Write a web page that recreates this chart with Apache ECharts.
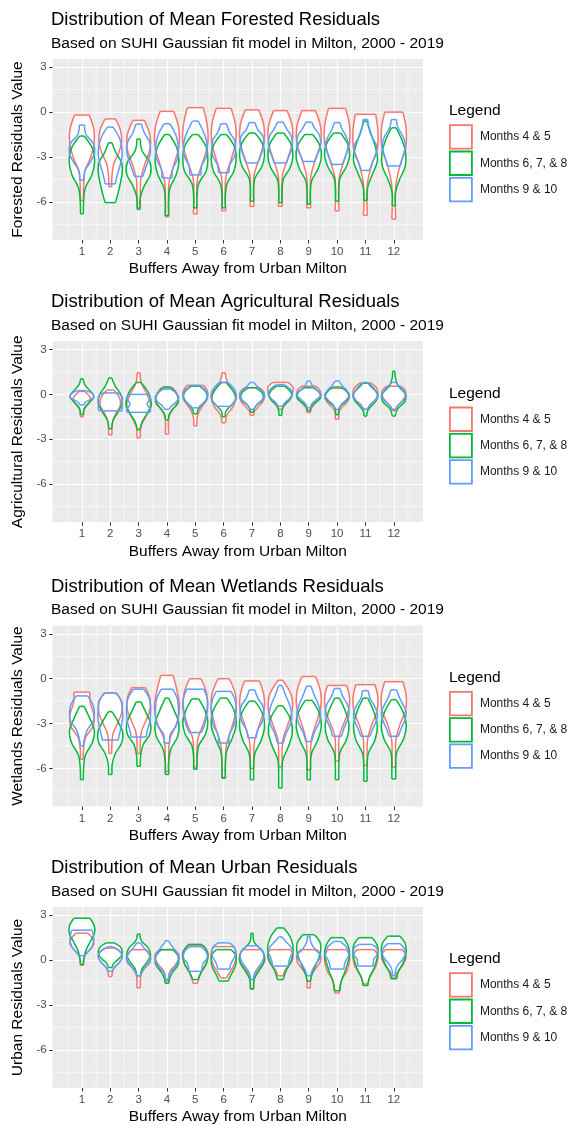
<!DOCTYPE html>
<html><head><meta charset="utf-8">
<script src="https://cdn.jsdelivr.net/npm/echarts@6/dist/echarts.min.js"></script>
<style>html,body{margin:0;padding:0;background:#fff}#c{width:573px;height:1126px}</style>
</head><body><div id="c"></div>
<script>
// ---------- labels & ticks ----------
const buffers = [1,2,3,4,5,6,7,8,9,10,11,12];
const groupNames = ['Months 4 & 5', 'Months 6, 7, & 8', 'Months 9 & 10'];
const panelTitles = ['Distribution of Mean Forested Residuals','Distribution of Mean Agricultural Residuals','Distribution of Mean Wetlands Residuals','Distribution of Mean Urban Residuals'];
const subtitleText = 'Based on SUHI Gaussian fit model in Milton, 2000 - 2019';
const yAxisTitles = ['Forested Residuals Value','Agricultural Residuals Value','Wetlands Residuals Value','Urban Residuals Value'];
const xAxisTitle = 'Buffers Away from Urban Milton';
const legendTitle = 'Legend';
const yTickValues = [-6,-3,0,3];
const yMinorValues = [-7.5,-4.5,-1.5,1.5];
const xMinorValues = [0.5,1.5,2.5,3.5,4.5,5.5,6.5,7.5,8.5,9.5,10.5,11.5,12.5];
const yRange = [-8.55, 3.55];
const xRange = [-0.03, 13.03];

// ---------- violins ----------
// each row (one per buffer): [top, bottom, half-widths in hundredths of a buffer step at 7 evenly spaced levels, top -> bottom]
const forestedM45 = [
 [-0.2,-5.9, 26,42,43,30,10,6,5],
 [-0.45,-5.0, 18,36,40,30,12,6,5],
 [-0.55,-6.4, 20,40,40,22,8,6,6],
 [0.05,-7.0, 24,42,42,25,8,5,6],
 [0.3,-6.8, 28,42,44,28,8,5,7],
 [0.25,-6.6, 26,42,42,26,8,5,7],
 [0.15,-6.3, 24,42,42,26,8,5,7],
 [0.1,-6.3, 24,42,42,26,8,5,7],
 [0.1,-6.4, 24,42,42,24,8,5,7],
 [0.25,-6.6, 30,44,44,26,8,5,7],
 [-0.15,-6.9, 36,44,42,22,8,5,7],
 [0.0,-7.15, 32,44,42,22,8,5,7]
];
const forestedM678 = [
 [-1.6,-6.8, 8,38,45,35,12,6,5],
 [-2.05,-6.05, 6,20,40,42,36,28,18],
 [-1.8,-6.5, 6,12,40,42,20,6,5],
 [-1.5,-6.9, 8,35,42,32,10,6,6],
 [-1.5,-6.4, 10,38,44,38,12,6,6],
 [-1.5,-6.4, 10,38,44,36,12,6,6],
 [-1.4,-5.95, 10,38,44,34,10,6,6],
 [-1.4,-6.05, 12,38,44,34,10,6,6],
 [-1.5,-6.15, 14,40,44,32,10,6,6],
 [-1.4,-5.95, 12,38,44,32,10,6,6],
 [-0.6,-5.9, 5,20,36,42,25,8,6],
 [-1.05,-6.25, 8,30,42,40,20,6,6]
];
const forestedM910 = [
 [-0.87,-4.55, 9,14,40,45,30,10,8],
 [-1.0,-4.8, 10,30,40,42,35,25,18],
 [-0.8,-4.3, 10,20,38,42,36,25,15],
 [-0.78,-4.4, 10,28,38,40,36,20,18],
 [-0.6,-4.2, 10,26,38,42,38,22,20],
 [-0.78,-4.05, 10,20,38,42,38,22,18],
 [-0.7,-3.4, 10,20,38,42,38,30,20],
 [-0.67,-3.4, 10,22,38,42,40,30,22],
 [-0.67,-3.3, 10,22,38,42,40,30,20],
 [-0.7,-3.5, 10,18,32,40,36,28,18],
 [-0.5,-3.9, 8,12,22,38,38,25,15],
 [-0.5,-3.6, 9,14,30,40,38,30,22]
];
const agriculturalM45 = [
 [0.2,-1.5, 10,25,32,22,10,6,5],
 [0.3,-2.7, 12,32,36,22,10,6,6],
 [1.45,-2.9, 5,10,30,42,26,8,6],
 [0.45,-2.65, 20,38,36,16,6,5,6],
 [0.6,-2.1, 30,44,42,26,12,6,6],
 [1.45,-1.9, 5,12,30,42,34,12,6],
 [0.45,-1.4, 26,42,44,38,24,10,6],
 [0.8,-1.0, 26,44,44,40,30,16,6],
 [0.55,-1.2, 24,40,42,36,22,10,6],
 [0.4,-1.65, 22,40,42,30,12,6,7],
 [0.75,-1.0, 20,38,44,42,32,16,8],
 [0.55,-1.1, 24,40,42,36,24,10,6]
];
const agriculturalM678 = [
 [1.05,-1.35, 4,10,28,42,25,8,5],
 [1.1,-2.3, 5,18,38,42,28,10,5],
 [0.8,-2.35, 8,30,42,44,30,12,5],
 [0.5,-1.7, 10,30,40,38,22,8,5],
 [0.55,-1.3, 14,34,42,38,24,10,6],
 [0.8,-1.5, 8,26,40,42,26,8,5],
 [0.45,-1.2, 12,32,40,36,20,8,5],
 [0.55,-1.4, 14,34,40,30,12,6,5],
 [0.45,-1.1, 14,34,42,38,20,8,5],
 [0.5,-1.35, 12,34,42,34,14,6,5],
 [0.75,-1.45, 10,30,42,40,24,8,5],
 [1.55,-1.45, 4,6,16,40,40,14,5]
];
const agriculturalM910 = [
 [0.25,-0.7, 16,34,42,40,26,12,8],
 [0.1,-1.1, 28,40,42,42,42,42,40],
 [0.0,-1.2, 30,42,38,30,34,42,40],
 [0.35,-1.0, 14,30,40,40,30,16,8],
 [0.6,-0.9, 14,32,42,42,36,24,10],
 [0.8,-0.8, 14,30,40,44,44,36,24],
 [0.8,-1.0, 6,20,36,44,34,16,6],
 [0.65,-0.8, 14,32,42,40,30,16,6],
 [0.9,-0.9, 5,12,28,44,30,12,5],
 [0.9,-1.0, 6,18,34,44,32,14,5],
 [0.8,-1.0, 6,20,36,45,34,16,6],
 [0.8,-1.0, 6,22,36,44,34,16,6]
];
const wetlandsM45 = [
 [-0.9,-5.4, 28,30,42,40,14,6,5],
 [-0.95,-5.0, 22,40,40,26,10,6,5],
 [-0.6,-5.0, 24,40,40,26,10,6,5],
 [0.22,-6.2, 22,36,44,34,10,6,6],
 [0.0,-5.9, 20,40,42,30,10,6,6],
 [0.0,-6.6, 20,42,42,28,10,6,6],
 [-0.15,-6.0, 26,42,42,26,10,6,6],
 [-0.1,-5.9, 8,38,42,28,10,6,7],
 [0.15,-6.1, 24,42,42,26,10,6,7],
 [-0.45,-5.5, 34,44,40,24,8,6,6],
 [-0.4,-5.8, 34,44,40,22,8,6,6],
 [-0.2,-5.9, 32,44,42,22,8,6,6]
];
const wetlandsM678 = [
 [-1.85,-6.75, 8,28,44,36,12,6,5],
 [-2.2,-6.4, 6,28,44,40,18,7,6],
 [-1.55,-5.85, 8,26,42,40,16,7,6],
 [-1.3,-6.4, 6,26,42,38,14,6,6],
 [-1.35,-6.05, 12,34,44,36,12,6,6],
 [-1.3,-6.65, 12,38,44,30,10,6,6],
 [-1.5,-6.75, 10,38,44,32,10,6,6],
 [-1.8,-7.3, 8,36,42,28,8,6,6],
 [-1.45,-6.75, 12,38,44,32,10,6,6],
 [-1.3,-6.75, 8,30,42,34,10,6,6],
 [-1.3,-6.85, 8,30,42,34,10,6,6],
 [-1.4,-6.7, 8,34,44,34,10,7,7]
];
const wetlandsM910 = [
 [-1.15,-4.5, 20,38,44,40,20,10,5],
 [-0.95,-4.1, 18,40,42,44,40,34,28],
 [-0.7,-3.9, 18,36,42,42,40,32,26],
 [-0.7,-4.3, 20,36,40,40,34,12,10],
 [-0.7,-3.6, 30,40,44,42,38,32,22],
 [-0.85,-4.3, 26,40,44,42,36,20,18],
 [-0.75,-3.95, 10,20,38,42,36,20,15],
 [-0.45,-4.3, 6,18,32,40,36,20,10],
 [-0.5,-4.2, 8,20,34,42,36,20,10],
 [-0.65,-3.85, 10,20,36,42,36,24,16],
 [-0.8,-3.85, 10,16,32,42,38,26,16],
 [-0.75,-3.85, 10,20,34,44,38,26,16]
];
const urbanM45 = [
 [1.8,-0.35, 20,38,42,30,12,6,5],
 [0.8,-1.1, 20,40,42,32,16,8,6],
 [0.7,-1.85, 26,42,40,20,8,6,6],
 [0.7,-1.4, 26,42,40,28,12,6,6],
 [0.95,-1.55, 30,44,44,38,24,14,8],
 [0.9,-1.2, 34,44,44,40,32,20,10],
 [0.7,-1.95, 34,44,40,22,10,6,6],
 [0.7,-1.05, 36,44,44,38,26,14,10],
 [0.7,-1.85, 30,42,40,24,10,6,6],
 [0.7,-2.2, 34,44,42,34,18,10,8],
 [0.7,-1.6, 30,44,42,36,24,14,8],
 [0.7,-1.2, 30,42,42,34,22,10,6]
];
const urbanM678 = [
 [2.8,-0.3, 28,44,44,30,16,8,5],
 [1.15,-0.5, 14,36,42,40,28,12,6],
 [1.75,-1.05, 4,10,34,42,30,12,6],
 [0.7,-1.55, 20,38,42,36,20,10,6],
 [1.05,-1.3, 24,40,44,40,30,18,10],
 [0.7,-1.4, 26,42,44,42,34,24,16],
 [1.8,-1.9, 4,8,38,44,26,8,6],
 [2.15,-1.3, 12,34,44,44,36,20,10],
 [1.7,-1.4, 20,40,42,36,24,12,6],
 [1.5,-2.05, 22,40,44,36,26,14,10],
 [1.5,-1.7, 24,42,44,38,28,14,8],
 [1.6,-1.25, 22,40,44,40,30,16,10]
];
const urbanM910 = [
 [2.0,0.3, 36,40,42,40,34,22,10],
 [0.9,-0.75, 8,30,42,40,30,14,6],
 [1.15,-1.05, 6,20,36,42,30,14,6],
 [1.3,-1.3, 4,20,36,40,30,10,5],
 [0.9,-0.75, 20,36,42,40,28,24,22],
 [1.15,-0.6, 20,38,42,40,32,24,22],
 [0.95,-1.3, 18,38,42,34,20,8,5],
 [1.55,-0.4, 6,20,36,44,36,30,28],
 [1.6,-1.05, 4,8,22,42,28,14,6],
 [1.25,-0.6, 10,30,40,42,32,26,24],
 [1.05,-0.4, 22,40,42,40,30,28,26],
 [1.1,-1.05, 22,38,40,30,14,6,5]
];
const panelViolins = [
  [forestedM45, forestedM678, forestedM910],
  [agriculturalM45, agriculturalM678, agriculturalM910],
  [wetlandsM45, wetlandsM678, wetlandsM910],
  [urbanM45, urbanM678, urbanM910]
];

// ---------- styling / layout ----------
const groupColors = ['#F8766D', '#00BA38', '#619CFF'];
const FONT = 'Liberation Sans, Arial, Helvetica, sans-serif';
const panelOffsets = [0, 282.3, 566.6, 848];
const plotLeft = 52.7, plotWidth = 370.3, plotTop0 = 59, plotHeight = 181;

const chart = echarts.init(document.getElementById('c'), null, {renderer: 'canvas'});

function violinRender(params, api) {
  const c = api.value(0), top = api.value(1), bot = api.value(2);
  const n = 7;
  const right = [], left = [];
  for (let i = 0; i < n; i++) {
    const w = api.value(3 + i) / 100;
    const y = top + (bot - top) * i / (n - 1);
    right.push(api.coord([c + w, y]));
    left.push(api.coord([c - w, y]));
  }
  const color = api.visual('color');
  const poly = right.concat(left.slice().reverse());
  const stroke = {stroke: color, lineWidth: 1.5, fill: null};
  return {
    type: 'group',
    children: [
      {type: 'polygon', z2: 0, shape: {points: poly}, style: {fill: 'rgba(255,255,255,0.85)', stroke: null}},
      {type: 'polyline', z2: 10, shape: {points: right, smooth: 0.35}, style: stroke},
      {type: 'polyline', z2: 10, shape: {points: left, smooth: 0.35}, style: stroke},
      {type: 'line', z2: 10, shape: {x1: left[0][0], y1: left[0][1], x2: right[0][0], y2: right[0][1]}, style: stroke},
      {type: 'line', z2: 10, shape: {x1: left[n-1][0], y1: left[n-1][1], x2: right[n-1][0], y2: right[n-1][1]}, style: stroke}
    ]
  };
}

function minorGridRender(params, api) {
  const cs = params.coordSys;
  const children = [];
  xMinorValues.forEach(v => {
    const x = api.coord([v, 0])[0];
    children.push({type: 'line', shape: {x1: x, y1: cs.y, x2: x, y2: cs.y + cs.height}, style: {stroke: '#fff', lineWidth: 0.6}});
  });
  yMinorValues.forEach(v => {
    const y = api.coord([0, v])[1];
    children.push({type: 'line', shape: {x1: cs.x, y1: y, x2: cs.x + cs.width, y2: y}, style: {stroke: '#fff', lineWidth: 0.6}});
  });
  return {type: 'group', children};
}

const grids = [], xAxes = [], yAxes = [], series = [], titles = [], legends = [];
panelOffsets.forEach((off, p) => {
  const top = plotTop0 + off;
  grids.push({left: plotLeft, width: plotWidth, top: top, height: plotHeight, show: true, backgroundColor: '#EBEBEB', borderWidth: 0});
  xAxes.push({
    type: 'value', gridIndex: p, min: xRange[0], max: xRange[1],
    axisLine: {show: false, onZero: false},
    axisTick: {show: true, length: 3.5, customValues: buffers, lineStyle: {color: '#333', width: 1}},
    axisLabel: {customValues: buffers, color: '#4d4d4d', fontSize: 11.5, margin: 6, fontFamily: FONT},
    splitLine: {show: true, lineStyle: {color: '#fff', width: 1.2}},
    name: xAxisTitle, nameLocation: 'middle', nameGap: 21,
    nameTextStyle: {fontSize: 15.5, color: '#000', fontFamily: FONT}
  });
  yAxes.push({
    type: 'value', gridIndex: p, min: yRange[0], max: yRange[1], splitNumber: 4,
    axisLine: {show: false, onZero: false},
    axisTick: {show: true, length: 3.5, customValues: yTickValues, lineStyle: {color: '#333', width: 1}},
    axisLabel: {customValues: yTickValues, color: '#4d4d4d', fontSize: 11.5, margin: 6, fontFamily: FONT},
    splitLine: {show: true, lineStyle: {color: '#fff', width: 1.2}},
    name: yAxisTitles[p], nameLocation: 'middle', nameGap: 19,
    nameTextStyle: {fontSize: 15.5, color: '#000', fontFamily: FONT}
  });
  series.push({type: 'custom', xAxisIndex: p, yAxisIndex: p, silent: true, z: 1, data: [[0, 0]], renderItem: minorGridRender});
  panelViolins[p].forEach((rows, g) => {
    series.push({
      type: 'custom', name: groupNames[g], xAxisIndex: p, yAxisIndex: p, z: 2,
      itemStyle: {color: groupColors[g]},
      encode: {x: 0, y: [1, 2]},
      data: rows.map((r, i) => [buffers[i]].concat(r)),
      renderItem: violinRender
    });
  });
  titles.push({
    text: panelTitles[p], subtext: subtitleText, left: 51, top: 10.5 + off, padding: 0, itemGap: 6,
    textStyle: {fontSize: 18.5, fontWeight: 'normal', color: '#000', fontFamily: FONT},
    subtextStyle: {fontSize: 15.5, color: '#000', fontFamily: FONT}
  });
  titles.push({
    text: legendTitle, left: 449, top: 103 + off, padding: 0,
    textStyle: {fontSize: 15.5, fontWeight: 'normal', color: '#000', fontFamily: FONT}
  });
  legends.push({
    orient: 'vertical', left: 449, top: 124.3 + off, padding: 0,
    itemWidth: 22, itemHeight: 23.5, itemGap: 1, selectedMode: false,
    textStyle: {fontSize: 12, color: '#1a1a1a', fontFamily: FONT, padding: [0, 0, 0, 3]},
    data: groupNames.map((n, g) => ({name: n, icon: 'rect', itemStyle: {color: '#fff', borderColor: groupColors[g], borderWidth: 1.8}}))
  });
});

chart.setOption({
  animation: false,
  textStyle: {fontFamily: FONT},
  title: titles, legend: legends, grid: grids, xAxis: xAxes, yAxis: yAxes, series: series
});
</script></body></html>
